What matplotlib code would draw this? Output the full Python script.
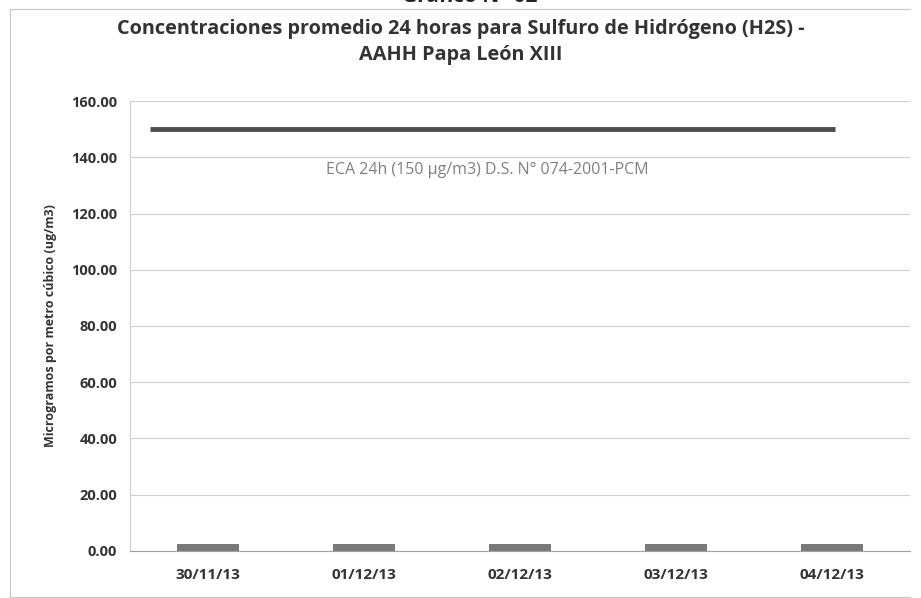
import matplotlib.pyplot as plt
from matplotlib.lines import Line2D

fechas = ['30/11/13', '01/12/13', '02/12/13', '03/12/13', '04/12/13']
h2s = [2.5, 2.5, 2.4, 2.6, 2.5]
eca = 150.0
eca_x = [-0.37, 4.02]
yticks = [0, 20, 40, 60, 80, 100, 120, 140, 160]

plt.rcParams['font.family'] = ['Open Sans', 'DejaVu Sans']

fig = plt.figure(figsize=(9.21, 5.98), dpi=100)
ax = fig.add_axes([0.141, 0.0786, 0.847, 0.7525])

x = range(len(fechas))
ax.bar(x, h2s, width=0.4, color='#7a7a7a', zorder=3)
ax.hlines(eca, eca_x[0], eca_x[1], color='#4d4d4d', lw=3.5, zorder=4)
ax.text(1.79, 135.5, 'ECA 24h (150 µg/m3) D.S. N° 074-2001-PCM',
        ha='center', va='center', fontsize=11.5, color='#808080')

ax.set_xlim(-0.5, len(fechas) - 0.5)
ax.set_ylim(0, 160)
ax.set_yticks(yticks)
ax.set_yticklabels(['%.2f' % v for v in yticks], fontsize=10.5, fontweight='bold', color='#333333')
ax.set_xticks(list(x))
ax.set_xticklabels(fechas, fontsize=11, fontweight='bold', color='#333333')
ax.tick_params(length=0, pad=9)
ax.tick_params(axis='x', pad=12)
ax.grid(axis='y', color='#cfcfcf', lw=0.8, zorder=0)
for s in ['top', 'right']:
    ax.spines[s].set_visible(False)
ax.spines['left'].set_color('#cfcfcf')
ax.spines['bottom'].set_color('#a0a0a0')
ax.set_ylabel('Microgramos por metro cúbico (ug/m3)', fontsize=9, fontweight='bold',
              color='#333333', labelpad=10)

fig.text(0.5, 0.93, 'Concentraciones promedio 24 horas para Sulfuro de Hidrógeno (H2S) -\nAAHH Papa León XIII',
         ha='center', va='center', fontsize=14.3, fontweight='bold', color='#333333',
         linespacing=1.4)
fig.text(0.51, 1.006, 'Gráfico N° 02', ha='center', va='center', fontsize=15,
         fontweight='bold', color='#222222')

# marco del gráfico
for xs, ys in [([0.011, 0.988], [0.985, 0.985]), ([0.011, 0.011], [0.002, 0.985]),
               ([0.011, 0.988], [0.002, 0.002])]:
    fig.add_artist(Line2D(xs, ys, transform=fig.transFigure, color='#c8c8c8', lw=0.8))

fig.savefig('out.png', dpi=100)
